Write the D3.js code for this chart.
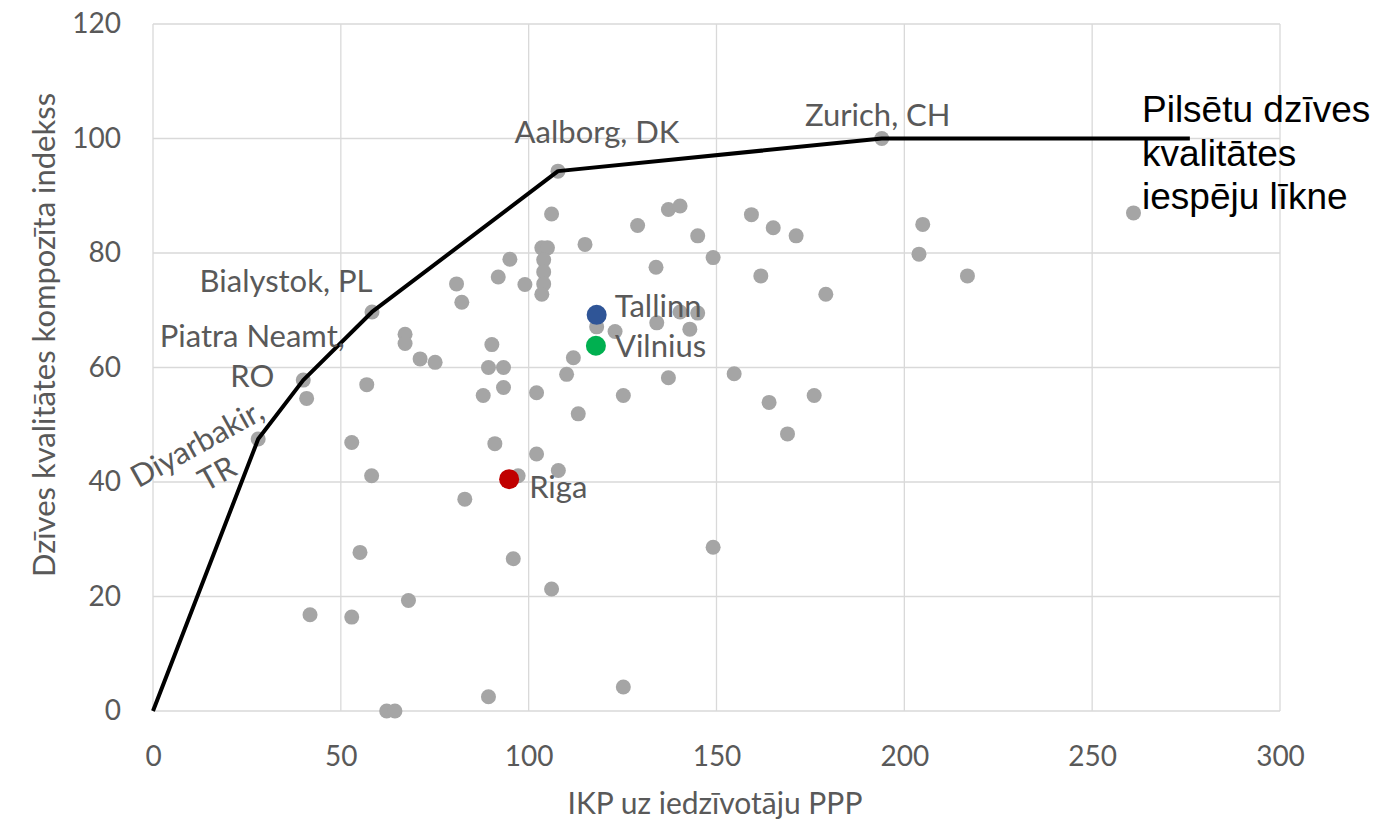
<!DOCTYPE html>
<html>
<head>
<meta charset="utf-8">
<script src="https://cdn.jsdelivr.net/npm/d3@7"></script>
<style>
  body { margin: 0; background: #fff; }
  text { font-family: Lato, "Open Sans", sans-serif; }
</style>
</head>
<body>
<svg id="chart" width="1378" height="822"></svg>
<script>
// other cities (gray)
var cityX = [261, 204.9, 203.9, 216.8, 179.1, 159.3, 165.1, 171.2, 149.1, 161.8, 154.7, 164, 176, 145, 145, 140.3,
  106.1, 129, 137.2, 140.3, 115, 95, 103.5, 105, 104, 104, 104, 103.5, 133.9, 80.8, 82.2, 91.9, 99,
  118.1, 123, 134.1, 142.9, 67.1, 67.1, 71.1, 75.1, 90.2, 89.3, 93.3, 111.9, 110.1, 137.2, 87.9, 93.3,
  102.1, 125.2, 113.2, 91, 168.9, 56.9, 40.9, 52.9, 58.2, 83, 102.1, 107.9, 97.2, 149.1, 95.9, 106.1,
  55.1, 68, 41.8, 52.9, 62.2, 64.4, 89.3, 125.2];
var cityY = [87, 85, 79.8, 76, 72.8, 86.7, 84.4, 83, 79.2, 76, 58.9, 53.9, 55.1, 83, 69.5, 69.7,
  86.8, 84.8, 87.6, 88.2, 81.5, 78.9, 80.9, 80.9, 78.8, 76.7, 74.6, 72.8, 77.5, 74.6, 71.4, 75.8, 74.5,
  67.1, 66.3, 67.8, 66.7, 65.8, 64.2, 61.5, 60.9, 64, 60, 60, 61.7, 58.8, 58.2, 55.1, 56.5,
  55.6, 55.1, 51.9, 46.7, 48.4, 57, 54.6, 46.9, 41.1, 37, 44.9, 42, 41.1, 28.6, 26.6, 21.3,
  27.7, 19.3, 16.8, 16.4, 0, 0, 2.5, 4.2];

// frontier (iespēju līkne)
var frontierX = [0, 28, 40, 58.3, 107.8, 194, 276];
var frontierY = [0, 47.5, 57.8, 69.7, 94.3, 100, 100];

// Baltic capitals
var balticNames = ["Tallinn", "Vilnius", "Riga"];
var balticX = [118.1, 117.9, 94.8];
var balticY = [69.2, 63.8, 40.5];
var balticColors = ["#2F5597", "#00B050", "#C00000"];

var xTicks = [0, 50, 100, 150, 200, 250, 300];
var yTicks = [0, 20, 40, 60, 80, 100, 120];

var svg = d3.select('#chart');
var x = d3.scaleLinear().domain([0, 300]).range([153, 1280]);
var y = d3.scaleLinear().domain([0, 120]).range([711, 24]);
var grey = '#595959';

// grid
svg.append('g').selectAll('line').data(yTicks).enter().append('line')
  .attr('x1', x(0)).attr('x2', x(300))
  .attr('y1', d => y(d)).attr('y2', d => y(d))
  .attr('stroke', '#D9D9D9').attr('stroke-width', 1.3);
svg.append('g').selectAll('line').data(xTicks).enter().append('line')
  .attr('y1', y(0)).attr('y2', y(120))
  .attr('x1', d => x(d)).attr('x2', d => x(d))
  .attr('stroke', '#D9D9D9').attr('stroke-width', 1.3);

// tick labels via d3 axes
var xAxis = svg.append('g').attr('transform', 'translate(0,' + y(0) + ')')
  .call(d3.axisBottom(x).tickValues(xTicks).tickSize(0).tickPadding(35));
var yAxis = svg.append('g').attr('transform', 'translate(' + x(0) + ',0)')
  .call(d3.axisLeft(y).tickValues(yTicks).tickSize(0).tickPadding(32));
[xAxis, yAxis].forEach(a => {
  a.select('.domain').remove();
  a.selectAll('text').attr('fill', grey).style('font-size', '28px')
    .style('font-family', 'Lato, sans-serif');
});

svg.append('text').attr('x', 715).attr('y', 814).attr('text-anchor', 'middle')
  .attr('fill', grey).style('font-size', '30px').text('IKP uz iedzīvotāju PPP');
svg.append('text').attr('transform', 'translate(55,335) rotate(-90)')
  .attr('text-anchor', 'middle').attr('fill', grey).style('font-size', '31px')
  .text('Dzīves kvalitātes kompozīta indekss');

// gray dots
var pts = cityX.map((v, i) => ({x: v, y: cityY[i]}));
svg.append('g').selectAll('circle').data(pts).enter().append('circle')
  .attr('cx', d => x(d.x)).attr('cy', d => y(d.y)).attr('r', 7.5)
  .attr('fill', '#A5A5A5');

// frontier dots + line
var fr = frontierX.map((v, i) => ({x: v, y: frontierY[i]}));
svg.append('g').selectAll('circle').data(fr.slice(1, 6)).enter().append('circle')
  .attr('cx', d => x(d.x)).attr('cy', d => y(d.y)).attr('r', 7.5)
  .attr('fill', '#A5A5A5');
svg.append('path').datum(fr)
  .attr('d', d3.line().x(d => x(d.x)).y(d => y(d.y)))
  .attr('fill', 'none').attr('stroke', '#000').attr('stroke-width', 4)
  .attr('stroke-linejoin', 'round');

// baltic dots
var bal = balticNames.map((n, i) => ({n: n, x: balticX[i], y: balticY[i], c: balticColors[i]}));
var offs = {Tallinn: [18, 2], Vilnius: [19, 11], Riga: [20, 19]};
svg.append('g').selectAll('circle').data(bal).enter().append('circle')
  .attr('cx', d => x(d.x)).attr('cy', d => y(d.y)).attr('r', 10)
  .attr('fill', d => d.c);
svg.append('g').selectAll('text').data(bal).enter().append('text')
  .attr('x', d => x(d.x) + offs[d.n][0])
  .attr('y', d => y(d.y) + offs[d.n][1])
  .attr('fill', grey).style('font-size', '31px').text(d => d.n);

// frontier city labels
function lbl(i, dx, dy, s) {
  svg.append('text').attr('x', x(frontierX[i]) + dx).attr('y', y(frontierY[i]) + dy)
    .attr('text-anchor', 'middle').attr('fill', grey).style('font-size', '31px').text(s);
}
lbl(5, -4, -13, 'Zurich, CH');
lbl(4, 39, -28, 'Aalborg, DK');
lbl(3, -86, -20, 'Bialystok, PL');
lbl(2, -51, -33, 'Piatra Neamt,');
lbl(2, -51, 7, 'RO');
svg.append('text').attr('transform', 'translate(' + (x(28) - 56) + ',' + (y(47.5) + 14) + ') rotate(-29)')
  .attr('text-anchor', 'middle').attr('fill', grey).style('font-size', '31px').text('Diyarbakir,');
svg.append('text').attr('transform', 'translate(' + (x(28) - 36) + ',' + (y(47.5) + 44) + ') rotate(-29)')
  .attr('text-anchor', 'middle').attr('fill', grey).style('font-size', '31px').text('TR');

// annotation
var ann = ['Pilsētu dzīves', 'kvalitātes', 'iespēju līkne'];
svg.append('g').selectAll('text').data(ann).enter().append('text')
  .attr('x', 1142).attr('y', (d, i) => 122 + i * 43.5)
  .style('font-family', '"Liberation Sans", Arial, sans-serif')
  .style('font-size', '37px').attr('fill', '#000').text(d => d);
</script>
</body>
</html>
